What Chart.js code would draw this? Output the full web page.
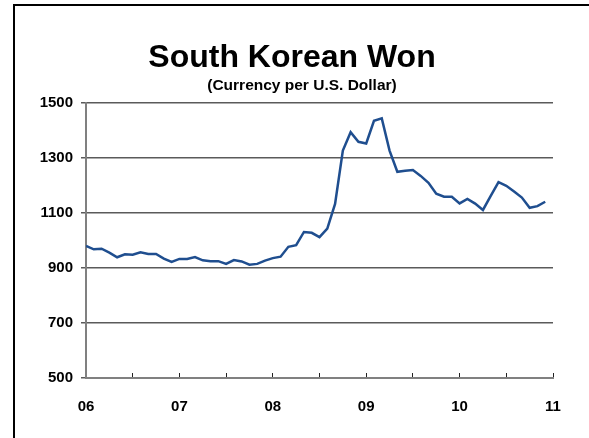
<!DOCTYPE html>
<html>
<head>
<meta charset="utf-8">
<script src="https://cdn.jsdelivr.net/npm/chart.js@4"></script>
<style>
  body { margin: 0; background: #fff; overflow: hidden; }
  #wrap { position: relative; width: 589px; height: 438px; }
  #frame { position: absolute; left: 13px; top: 4px; width: 620px; height: 480px;
           border-left: 2px solid #000; border-top: 2px solid #000; }
  #wrap canvas { position: absolute; left: 0; top: 0; }
</style>
</head>
<body>
<div id="wrap">
  <div id="frame"></div>
  <canvas id="myChart" width="589" height="438"></canvas>
</div>
<script>
var titleText = 'South Korean Won';
var subtitleText = '(Currency per U.S. Dollar)';
var yearLabels = ['06', '07', '08', '09', '10', '11'];

// monthly averages, Jan 2006 .. Dec 2010
var won2006 = [980, 968, 970, 956, 939, 950, 948, 957, 951, 951, 934, 922];
var won2007 = [933, 933, 940, 928, 925, 925, 915, 929, 924, 912, 915, 927];
var won2008 = [936, 941, 977, 983, 1031, 1028, 1012, 1043, 1133, 1327, 1394, 1359];
var won2009 = [1353, 1435, 1444, 1327, 1250, 1254, 1256, 1235, 1210, 1170, 1159, 1159];
var won2010 = [1135, 1151, 1134, 1111, 1162, 1212, 1199, 1178, 1156, 1119, 1125, 1141];

var wonValues = won2006.concat(won2007, won2008, won2009, won2010);
var points = wonValues.map(function(v, i) { return { x: i, y: v }; });

var FONT = '"Liberation Sans", Arial, sans-serif';

var titlePlugin = {
    id: 'titles',
    afterDraw: function(chart) {
        var ctx = chart.ctx;
        ctx.save();
        ctx.fillStyle = '#000';
        ctx.textAlign = 'center';
        ctx.textBaseline = 'middle';
        ctx.font = 'bold 32px ' + FONT;
        ctx.fillText(titleText, 292, 58);
        ctx.font = 'bold 15.5px ' + FONT;
        ctx.fillText(subtitleText, 302, 86);
        ctx.restore();
    }
};

var ctx = document.getElementById('myChart').getContext('2d');
window.myChart = new Chart(ctx, {
    type: 'line',
    data: {
        datasets: [{
            label: 'Won',
            data: points,
            fill: false,
            borderColor: '#1f4e8f',
            borderWidth: 2.5,
            pointRadius: 0,
            tension: 0
        }]
    },
    options: {
        responsive: false,
        animation: false,
        layout: { padding: { top: 103, right: 36, bottom: 0, left: 0 } },
        plugins: {
            legend: { display: false },
            tooltip: { enabled: false }
        },
        scales: {
            x: {
                type: 'linear',
                min: 0,
                max: 60,
                afterFit: function(scale) { scale.height = 60; },
                border: { color: '#808080', width: 2 },
                grid: {
                    drawOnChartArea: false,
                    drawTicks: true,
                    tickLength: -5,
                    color: '#222',
                    lineWidth: 1
                },
                ticks: {
                    stepSize: 6,
                    autoSkip: false,
                    maxRotation: 0,
                    padding: 25,
                    color: '#000',
                    font: { family: FONT, size: 15, weight: 'bold' },
                    callback: function(v) {
                        return v % 12 === 0 ? yearLabels[v / 12] : '';
                    }
                }
            },
            y: {
                min: 500,
                max: 1500,
                afterFit: function(scale) { scale.width = 86; },
                border: { color: '#808080', width: 2 },
                grid: {
                    color: '#5a5a5a',
                    lineWidth: 1.5,
                    tickLength: 5
                },
                ticks: {
                    stepSize: 200,
                    padding: 8,
                    color: '#000',
                    font: { family: FONT, size: 15, weight: 'bold' },
                    callback: function(v) { return String(v); }
                }
            }
        }
    },
    plugins: [titlePlugin]
});
</script>
</body>
</html>
